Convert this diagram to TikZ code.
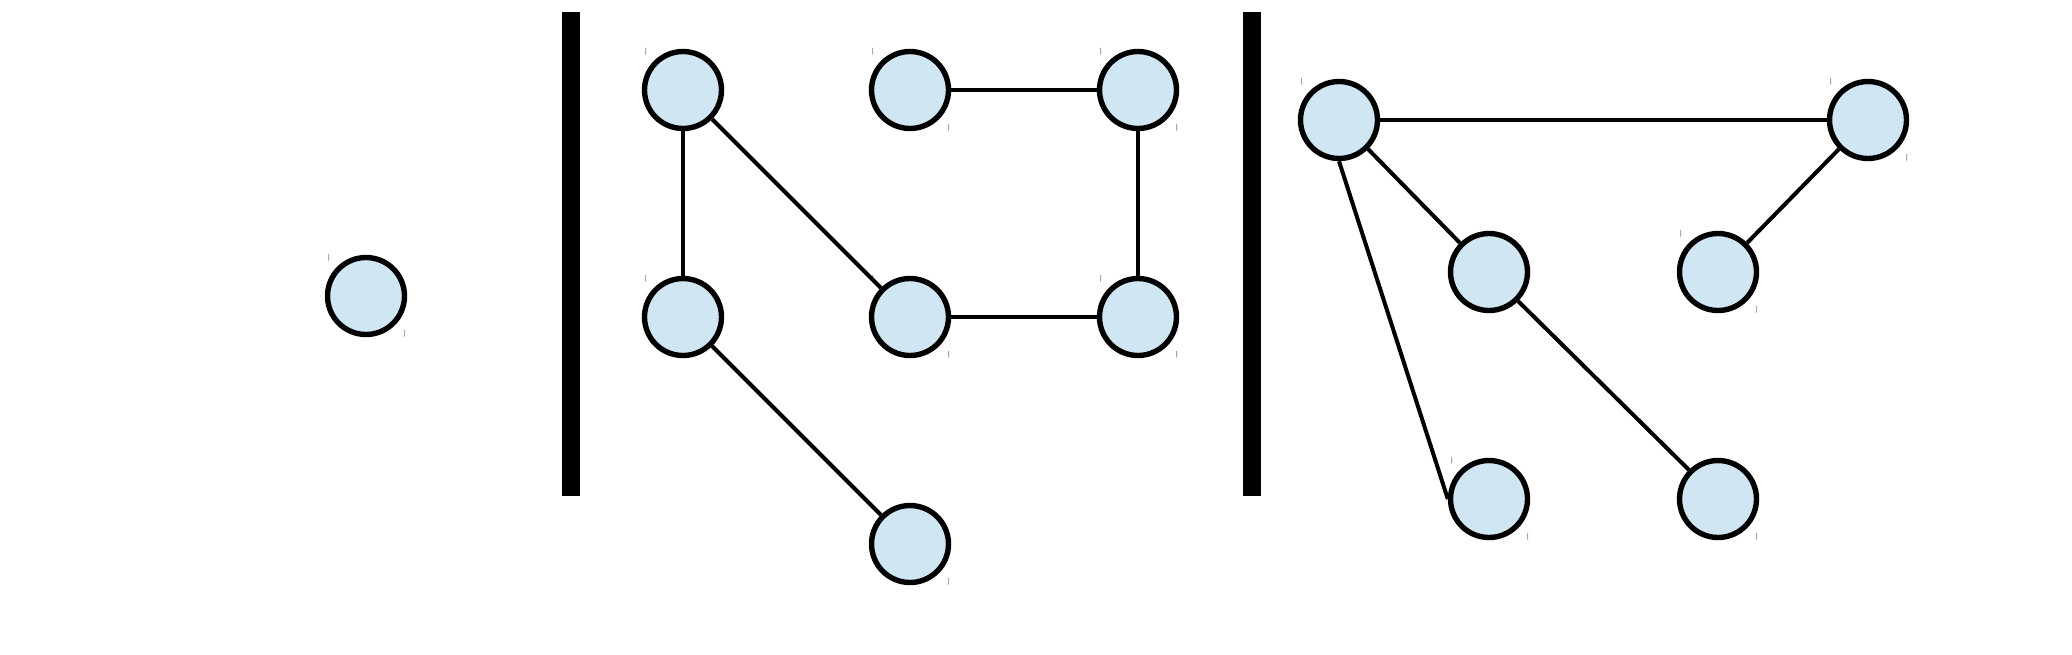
\documentclass[tikz,border=0pt]{standalone}
\begin{document}
\begin{tikzpicture}[x=0.5pt,y=-0.5pt,
  vnode/.style={circle,draw=black,line width=2.7pt,fill=nodeblue,minimum size=38.5pt,inner sep=0pt},
  edge/.style={draw=black,line width=2pt},
  tick/.style={inner sep=0pt,font=\fontsize{3.5}{3.5}\selectfont,text=black},
  bar/.style={fill=black,draw=none}]
\definecolor{nodeblue}{RGB}{208,230,243}
\useasboundingbox (0,0) rectangle (2072,654);
% separators
\fill[bar] (562,12) rectangle (580,496);
\fill[bar] (1243,12) rectangle (1261,496);
% single node
\node[vnode] (S) at (366,296) {};
% middle graph
\node[vnode] (A) at (683,90) {};
\node[vnode] (B) at (910,90) {};
\node[vnode] (C) at (1138,90) {};
\node[vnode] (D) at (683,317) {};
\node[vnode] (E) at (910,317) {};
\node[vnode] (F) at (1138,317) {};
\node[vnode] (G) at (910,544) {};
% right graph
\node[vnode] (H) at (1339,120) {};
\node[vnode] (I) at (1868,120) {};
\node[vnode] (J) at (1489,272) {};
\node[vnode] (K) at (1718,272) {};
\node[vnode] (L) at (1489,499) {};
\node[vnode] (M) at (1718,499) {};
% edges
\draw[edge] (A.south) -- (D.north);
\draw[edge] (A.south east) -- (E.north west);
\draw[edge] (B.east) -- (C.west);
\draw[edge] (C.south) -- (F.north);
\draw[edge] (E.east) -- (F.west);
\draw[edge] (D.south east) -- (G.north west);
\draw[edge] (H.east) -- (I.west);
\draw[edge] (H.south east) -- (J.north west);
\draw[edge] (H.south) -- (L.west);
\draw[edge] (I.south west) -- (K.north east);
\draw[edge] (J.south east) -- (M.north west);
% tiny tick labels
\foreach \n in {S,A,B,C,D,E,F,H,I,K,L}{
  \node[tick] (tl\n) at ([shift={(-37,-38)}]\n.center) {|};
}
\foreach \n in {S,B,C,E,F,G,I,K,L,M}{
  \node[tick] (br\n) at ([shift={(39,38)}]\n.center) {|};
}
\end{tikzpicture}
\end{document}
